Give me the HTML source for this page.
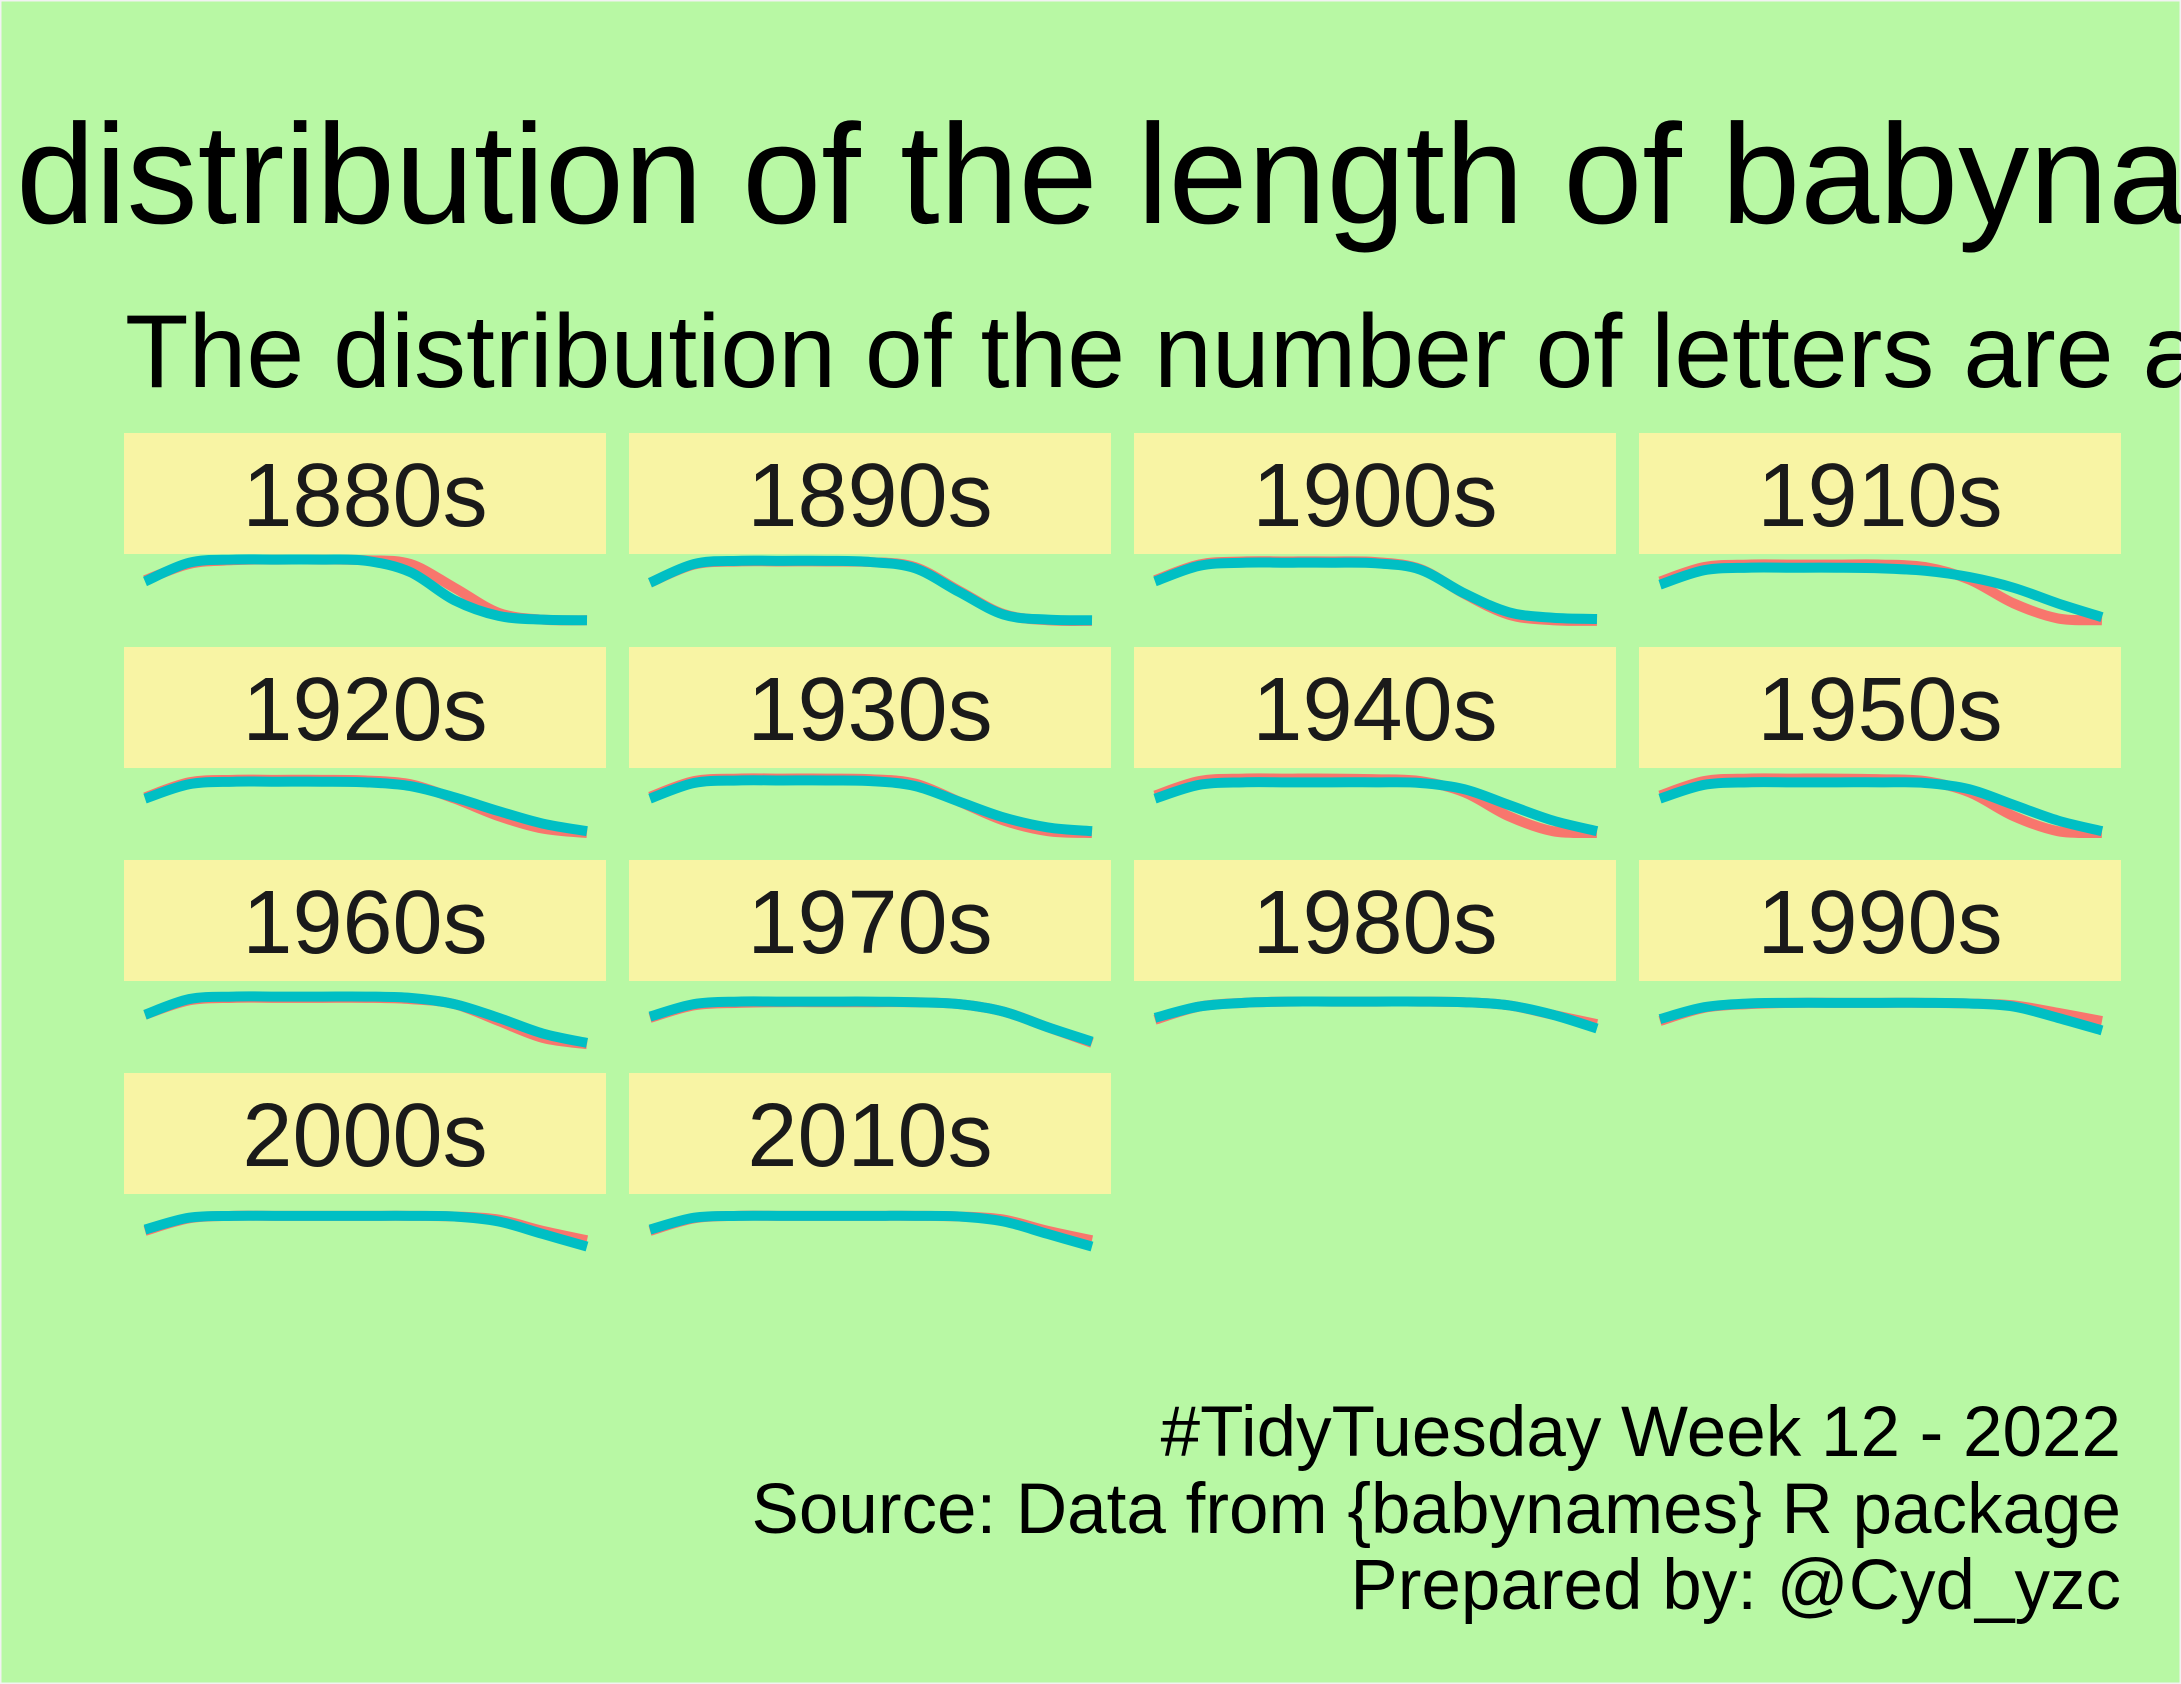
<!DOCTYPE html>
<html><head><meta charset="utf-8">
<style>
html,body{margin:0;padding:0;background:#b8f8a4;}
svg{display:block;font-family:"Liberation Sans",sans-serif;}
</style></head>
<body>
<svg id="chart" width="2181" height="1684" viewBox="0 0 2181 1684">
<rect x="0" y="0" width="2181" height="1684" fill="#b8f8a4" stroke="#f2f2f2" stroke-width="3"/>
<text x="-268" y="223" font-size="142" fill="#000">The distribution of the length of babynames over the decades</text>
<text x="125" y="387" font-size="104" fill="#000">The distribution of the number of letters are almost the same for both sexes</text>
<g id="panels"></g>
<g>
<text x="2121" y="1456" font-size="71" text-anchor="end" fill="#000">#TidyTuesday Week 12 - 2022</text>
<text x="2121" y="1533" font-size="71" text-anchor="end" fill="#000">Source: Data from {babynames} R package</text>
<text x="2121" y="1609" font-size="71" text-anchor="end" fill="#000">Prepared by: @Cyd_yzc</text>
</g>
</svg>
<script>
const decades = ["1880s","1890s","1900s","1910s","1920s","1930s","1940s","1950s","1960s","1970s","1980s","1990s","2000s","2010s"];
const femaleValues = [
 [.67,.93,.99,1,1,.99,.93,.55,.15,.04,.03],
 [.63,.92,.97,.97,.97,.96,.88,.5,.13,.03,.02],
 [.67,.92,.97,.97,.97,.96,.85,.45,.12,.03,.02],
 [.65,.88,.92,.92,.92,.92,.88,.68,.3,.06,.03],
 [.62,.86,.9,.9,.9,.89,.83,.6,.32,.12,.05],
 [.63,.88,.92,.92,.92,.91,.84,.55,.25,.08,.05],
 [.65,.88,.92,.92,.92,.91,.88,.7,.32,.08,.05],
 [.65,.88,.92,.92,.92,.91,.88,.7,.32,.08,.05],
 [.55,.78,.82,.82,.82,.82,.8,.72,.45,.18,.08],
 [.5,.7,.74,.75,.75,.75,.75,.72,.6,.35,.1],
 [.47,.68,.74,.76,.76,.76,.76,.75,.7,.55,.4],
 [.45,.66,.72,.74,.74,.74,.74,.73,.7,.58,.45],
 [.5,.7,.74,.74,.74,.74,.74,.73,.68,.5,.35],
 [.5,.7,.74,.74,.74,.74,.74,.73,.68,.5,.35]
];
const maleValues = [
 [.65,.95,1,1,1,.98,.8,.35,.1,.04,.03],
 [.63,.93,.98,.98,.98,.96,.86,.48,.12,.04,.03],
 [.65,.9,.95,.95,.95,.94,.84,.46,.16,.07,.05],
 [.6,.83,.87,.87,.87,.86,.82,.72,.55,.3,.08],
 [.6,.83,.87,.87,.87,.86,.8,.62,.4,.2,.08],
 [.6,.85,.89,.89,.89,.88,.8,.55,.3,.14,.08],
 [.6,.82,.86,.86,.86,.86,.85,.75,.5,.25,.08],
 [.6,.82,.86,.86,.86,.86,.85,.75,.5,.25,.08],
 [.55,.8,.84,.84,.84,.84,.82,.72,.5,.25,.1],
 [.52,.72,.76,.76,.76,.76,.75,.72,.6,.35,.12],
 [.5,.68,.74,.76,.76,.76,.76,.75,.7,.55,.33],
 [.48,.67,.73,.74,.74,.74,.74,.73,.68,.5,.3],
 [.52,.71,.74,.74,.74,.74,.74,.73,.65,.45,.25],
 [.52,.71,.74,.74,.74,.74,.74,.73,.65,.45,.25]
];
const NS="http://www.w3.org/2000/svg";
const g=document.getElementById('panels');
const colLeft=[124,629,1134,1639], rowTop=[433,647,860,1073];
const stripW=482, stripH=121;
function xScale(i,n,left){return left+21+(i/(n-1))*442;}
function yScale(v,top){return top+stripH+(4+(1-v)*45)*1.391;}
function pathFor(vals,left,top){
  const p=vals.map((v,i)=>[xScale(i,vals.length,left),yScale(v,top)]);
  let d="M"+p[0][0]+","+p[0][1];
  for(let i=0;i<p.length-1;i++){
    const p0=p[Math.max(0,i-1)],p1=p[i],p2=p[i+1],p3=p[Math.min(p.length-1,i+2)];
    const c1=[p1[0]+(p2[0]-p0[0])/6,p1[1]+(p2[1]-p0[1])/6];
    const c2=[p2[0]-(p3[0]-p1[0])/6,p2[1]-(p3[1]-p1[1])/6];
    d+=" C"+c1[0]+","+c1[1]+" "+c2[0]+","+c2[1]+" "+p2[0]+","+p2[1];
  }
  return d;
}
decades.forEach((dec,k)=>{
  const left=colLeft[k%4], top=rowTop[Math.floor(k/4)];
  const pg=document.createElementNS(NS,'g');
  
  
  const r=document.createElementNS(NS,'rect');
  r.setAttribute('x',left);r.setAttribute('y',top);r.setAttribute('width',stripW);r.setAttribute('height',stripH);r.setAttribute('fill','#f8f4a4');
  
  
  pg.appendChild(r);
  const t=document.createElementNS(NS,'text');
  t.setAttribute('x',left+stripW/2);t.setAttribute('y',top+93);t.setAttribute('font-size','90');t.setAttribute('text-anchor','middle');t.setAttribute('fill','#1a1a1a');
  t.textContent=dec;
  
  
  pg.appendChild(t);
  const f=document.createElementNS(NS,'path');
  f.setAttribute('d',pathFor(femaleValues[k],left,top));f.setAttribute('fill','none');f.setAttribute('stroke','#F8766D');f.setAttribute('stroke-width','10');
  
  
  pg.appendChild(f);
  const m=document.createElementNS(NS,'path');
  m.setAttribute('d',pathFor(maleValues[k],left,top));m.setAttribute('fill','none');m.setAttribute('stroke','#00BFC4');m.setAttribute('stroke-width','10');
  
  
  pg.appendChild(m);
  g.appendChild(pg);
});
</script>
</body></html>
